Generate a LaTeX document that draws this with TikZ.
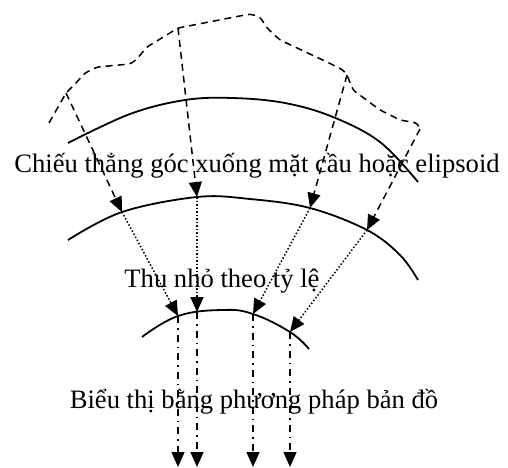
\documentclass[tikz,border=0pt]{standalone}
\usepackage{fontspec}
\setmainfont{Liberation Serif}
\usetikzlibrary{arrows.meta}

\tikzset{
  surface/.style={line width=1.8pt},
  terrain/.style={line width=1.5pt, dash pattern=on 7pt off 5pt, rounded corners=3pt},
  tip/.style={-{Triangle[length=15pt,width=13pt]}},
  proj/.style={tip, line width=1.5pt, dash pattern=on 7pt off 5pt},
  shrink/.style={tip, line width=1.5pt, dash pattern=on 1.5pt off 2pt},
  mapping/.style={tip, line width=1.5pt, dash pattern=on 7pt off 5pt on 1.5pt off 5pt},
  caption/.style={font=\fontsize{26.6}{28}\selectfont, anchor=base, inner sep=0pt}
}

\begin{document}
\begin{tikzpicture}[x=1pt,y=-1pt]
\useasboundingbox (0,0) rectangle (508,467);

% terrain surface outline
\coordinate (T1) at (66,93);
\coordinate (T2) at (178,28);
\coordinate (T3) at (347,75);
\coordinate (T4) at (420,129);
\draw[terrain] (49,123) -- (T1) -- (76,83) -- (85,73) -- (97,67) -- (130,64) -- (136,60)
  -- (147,47) -- (T2) -- (250,14) -- (260,17) -- (267,28) -- (280,40) -- (327,62)
  -- (343,70) -- (T3) -- (353,90) -- (380,110) -- (400,120) -- (417,123) -- (T4);

% outer curved surface
\draw[surface] plot[smooth, tension=0.6] coordinates
  {(68,143) (130,114) (185,100) (233,98) (285,103) (333,117) (380,142) (418,182)};

% sphere / ellipsoid surface
\coordinate (S1) at (122,212);
\coordinate (S2) at (197,197);
\coordinate (S3) at (310,208);
\coordinate (S4) at (367,230);
\draw[surface] plot[smooth, tension=0.6] coordinates
  {(68,240) (S1) (S2) (250,199) (S3) (S4) (400,255) (418,280)};

% reduced surface
\coordinate (R1) at (178,316);
\coordinate (R2) at (197,312);
\coordinate (R3) at (253,314);
\coordinate (R4) at (290,332);
\draw[surface] plot[smooth, tension=0.7] coordinates
  {(142,337) (R1) (222,310) (R3) (R4) (309,349)};

% map plane end points
\coordinate (M1) at (178,467);
\coordinate (M2) at (197,467);
\coordinate (M3) at (253,467);
\coordinate (M4) at (290,467);

% orthogonal projection
\draw[proj] (T1) -- (S1);
\draw[proj] (T2) -- (S2);
\draw[proj] (T3) -- (S3);
\draw[proj] (T4) -- (S4);

% scale reduction
\draw[shrink] (S1) -- (R1);
\draw[shrink] (S2) -- (R2);
\draw[shrink] (S3) -- (R3);
\draw[shrink] (S4) -- (R4);

% cartographic representation
\draw[mapping] (R1) -- (M1);
\draw[mapping] (R2) -- (M2);
\draw[mapping] (R3) -- (M3);
\draw[mapping] (R4) -- (M4);

% captions
\node[caption] (c1) at (257,172) {Chiếu thẳng góc xuống mặt cầu hoặc elipsoid};
\node[caption] (c2) at (222,287) {Thu nhỏ theo tỷ lệ};
\node[caption] (c3) at (254,408) {Biểu thị bằng phương pháp bản đồ};
\end{tikzpicture}
\end{document}
